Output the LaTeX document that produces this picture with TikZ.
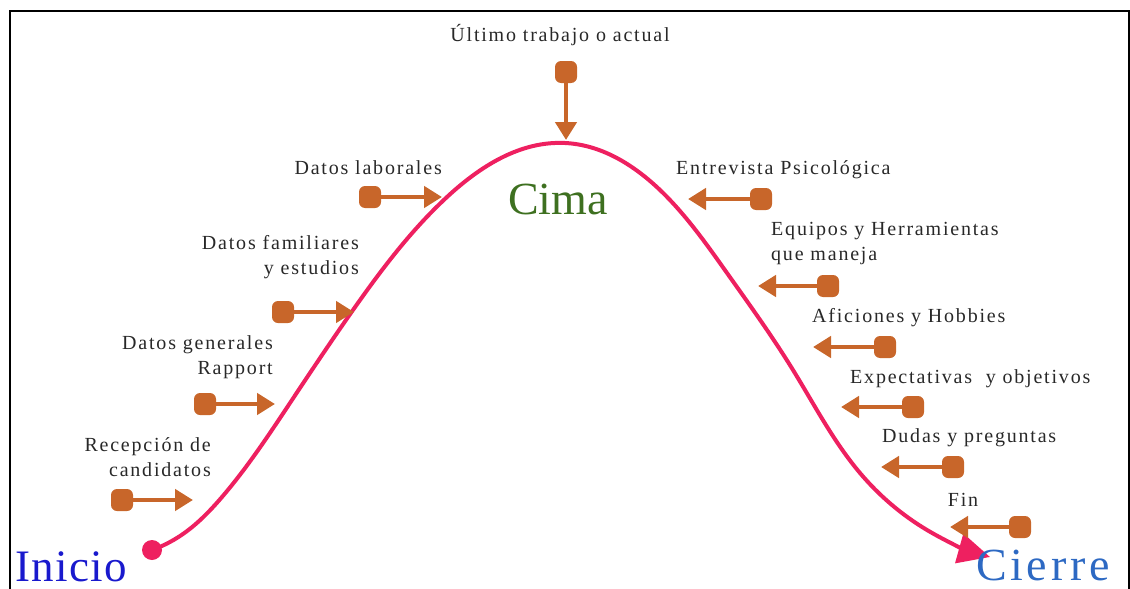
\documentclass[tikz,border=0pt]{standalone}
\usepackage{fontspec}
\setmainfont{Liberation Serif}
\newfontfamily\lblfont[LetterSpace=9]{Liberation Serif}
\newfontfamily\iniciofont[LetterSpace=3]{Liberation Serif}
\newfontfamily\cierrefont[LetterSpace=8]{Liberation Serif}
\usetikzlibrary{arrows.meta,hobby}
\definecolor{curvec}{RGB}{238,32,96}
\definecolor{orangec}{RGB}{200,102,42}
\definecolor{iniciob}{RGB}{25,25,205}
\definecolor{cimag}{RGB}{62,112,32}
\definecolor{cierreb}{RGB}{45,105,195}
\definecolor{txtc}{RGB}{40,40,40}
\tikzset{
  odot/.style={fill=orangec, rounded corners=6pt, minimum size=22pt, inner sep=0pt, draw=none, rectangle},
  oarrow/.style={draw=orangec, line width=4.5pt, -{Triangle[length=18pt,width=21pt]}},
  lbl/.style={font=\lblfont\fontsize{20}{25}\selectfont, text=txtc, inner sep=0pt},
  frame/.style={draw=black, line width=2pt},
  curvest/.style={draw=curvec, line width=4pt, -{Triangle[length=32pt,width=30pt]}},
}
\begin{document}
\begin{tikzpicture}[x=1pt,y=-1pt]
\useasboundingbox (0,0) rectangle (1130,589);
\draw[frame] (10,590) -- (10,11) -- (1129,11) -- (1129,590);

% main curve
\node[circle, fill=curvec, minimum size=20pt, inner sep=0pt] (start) at (152,550) {};
\coordinate (end) at (990,557);
\draw[curvest, use Hobby shortcut] (start.center) .. (180,536) .. (222,497) .. (290,403) .. (353,310) .. (447,197) .. (565,143) .. (660,190) .. (727,273) .. (793,370) .. (860,473) .. (927,530) .. (end);

% big labels
\node[font=\iniciofont\fontsize{45}{50}\selectfont, text=iniciob, anchor=base west, inner sep=0pt] (inicio) at (15,581) {Inicio};
\node[font=\fontsize{46}{50}\selectfont, text=cimag, inner sep=0pt] (cima) at (558,199) {Cima};
\node[font=\cierrefont\fontsize{46}{50}\selectfont, text=cierreb, anchor=base west, inner sep=0pt] (cierre) at (976,580) {Cierre};

% left side arrows
\node[odot] (d1) at (122,500) {}; \coordinate (t1) at (193,500);
\draw[oarrow] (d1.center) -- (t1);
\node[lbl, anchor=north east, align=right] (l1) at (211,437) {Recepción de\\candidatos};

\node[odot] (d2) at (205,404) {}; \coordinate (t2) at (275,404);
\draw[oarrow] (d2.center) -- (t2);
\node[lbl, anchor=north east, align=right] (l2) at (273,335) {Datos generales\\Rapport};

\node[odot] (d3) at (283,312) {}; \coordinate (t3) at (354,312);
\draw[oarrow] (d3.center) -- (t3);
\node[lbl, anchor=north east, align=right] (l3) at (359,235) {Datos familiares\\y estudios};

\node[odot] (d4) at (370,197) {}; \coordinate (t4) at (442,197);
\draw[oarrow] (d4.center) -- (t4);
\node[lbl, anchor=north east, align=right] (l4) at (442,160) {Datos laborales};

% top arrow
\node[odot] (d0) at (566,72) {}; \coordinate (t0) at (566,140);
\draw[oarrow] (d0.center) -- (t0);
\node[lbl] (l0) at (560,35) {Último trabajo o actual};

% right side arrows
\node[odot] (d5) at (761,199) {}; \coordinate (t5) at (688,199);
\draw[oarrow] (d5.center) -- (t5);
\node[lbl, anchor=north west, align=left] (l5) at (676,160) {Entrevista Psicológica};

\node[odot] (d6) at (828,286) {}; \coordinate (t6) at (758,286);
\draw[oarrow] (d6.center) -- (t6);
\node[lbl, anchor=north west, align=left] (l6) at (771,222) {Equipos y Herramientas\\que maneja};

\node[odot] (d7) at (885,347) {}; \coordinate (t7) at (813,347);
\draw[oarrow] (d7.center) -- (t7);
\node[lbl, anchor=north west, align=left] (l7) at (812,308) {Aficiones y Hobbies};

\node[odot] (d8) at (913,407) {}; \coordinate (t8) at (841,407);
\draw[oarrow] (d8.center) -- (t8);
\node[lbl, anchor=north west, align=left] (l8) at (850,369) {Expectativas~ y objetivos};

\node[odot] (d9) at (953,467) {}; \coordinate (t9) at (881,467);
\draw[oarrow] (d9.center) -- (t9);
\node[lbl, anchor=north west, align=left] (l9) at (882,428) {Dudas y preguntas};

\node[odot] (d10) at (1020,527) {}; \coordinate (t10) at (950,527);
\draw[oarrow] (d10.center) -- (t10);
\node[lbl] (l10) at (963,500) {Fin};
\end{tikzpicture}
\end{document}
